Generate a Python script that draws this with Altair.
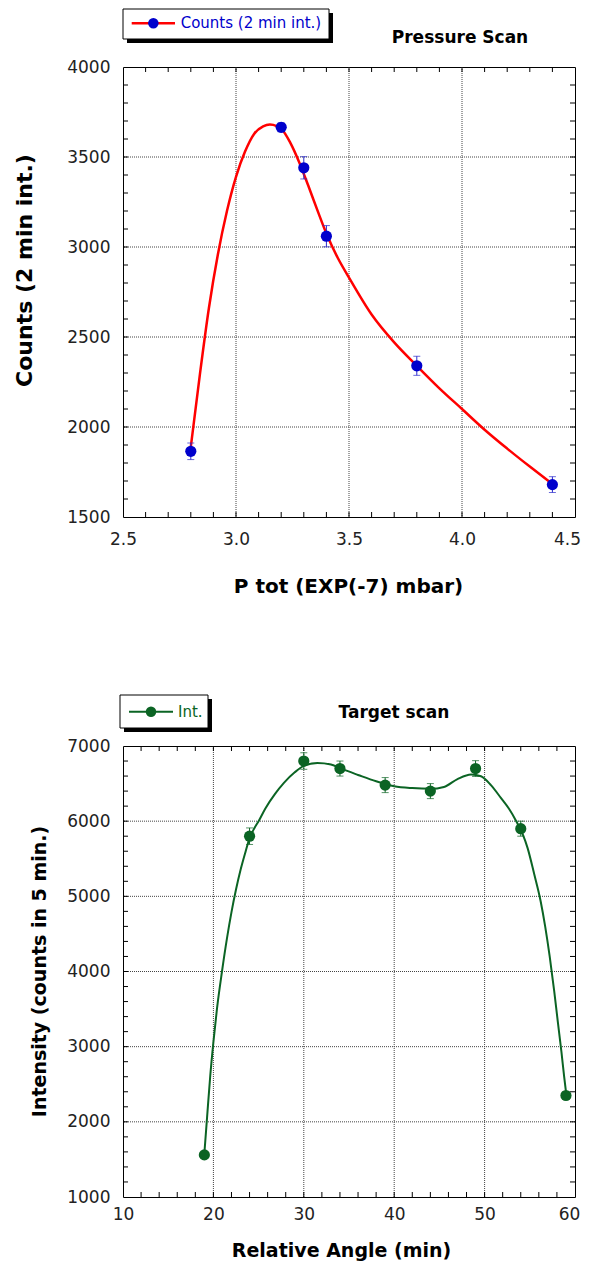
import altair as alt
import pandas as pd

# ---------------- Pressure scan (top) ----------------
p_x = [2.8, 3.2, 3.3, 3.4, 3.8, 4.4]
p_counts = [1865, 3665, 3440, 3060, 2340, 1680]
p_err = [46, 25, 62, 59, 53, 44]

p_curve_x = [2.80, 2.84, 2.88, 2.92, 2.96, 3.00, 3.04, 3.08, 3.12, 3.15, 3.18, 3.20,
             3.24, 3.28, 3.32, 3.36, 3.40, 3.45, 3.50, 3.60, 3.70, 3.80, 3.90, 4.00,
             4.10, 4.20, 4.30, 4.40]
p_curve_y = [1890, 2290, 2660, 2960, 3200, 3390, 3530, 3628, 3670, 3680, 3672, 3658,
             3580, 3470, 3340, 3205, 3075, 2940, 2830, 2625, 2470, 2340, 2215, 2100,
             1985, 1880, 1780, 1683]

p_xticks = [2.5, 3.0, 3.5, 4.0, 4.5]
p_yticks = [1500, 2000, 2500, 3000, 3500, 4000]
p_gridx = [3.0, 3.5, 4.0]
p_gridy = [2000, 2500, 3000, 3500]
p_minor_x = [round(2.5 + 0.1 * i, 1) for i in range(1, 20)]
p_minor_y = [1500 + 100 * i for i in range(1, 25)]

# ---------------- Target scan (bottom) ----------------
a_x = [19, 24, 30, 34, 39, 44, 49, 54, 59]
a_int = [1560, 5800, 6800, 6700, 6480, 6400, 6700, 5900, 2350]
a_err = [40, 110, 110, 100, 100, 100, 105, 100, 50]

a_curve_x = [19.0, 19.3, 19.65, 20.0, 20.4, 20.95, 21.5, 22.0, 22.5, 23.0, 23.5, 24.0,
             24.5, 25.0, 25.75, 26.8, 27.8, 29.0, 30.0, 31.5, 33.0, 34.0, 36.0, 38.0,
             40.0, 42.0, 44.0, 45.5, 47.0, 48.5, 49.6, 50.7, 51.8, 52.7, 53.5, 54.2,
             54.75, 55.5, 56.2, 56.7, 57.2, 57.7, 58.1, 58.5, 58.8, 59.05]
a_curve_y = [1580, 2060, 2610, 3060, 3510, 4000, 4440, 4790, 5090, 5350, 5570, 5770,
             5900, 6000, 6170, 6360, 6510, 6650, 6735, 6775, 6755, 6705, 6615, 6530,
             6465, 6440, 6430, 6455, 6560, 6622, 6598, 6480, 6310, 6165, 6000, 5830,
             5645, 5290, 4935, 4600, 4200, 3740, 3330, 2930, 2600, 2350]

a_xticks = [10, 20, 30, 40, 50, 60]
a_yticks = [1000, 2000, 3000, 4000, 5000, 6000, 7000]
a_gridx = [20, 30, 40, 50]
a_gridy = [2000, 3000, 4000, 5000, 6000]
a_minor_x = [10 + 2 * i for i in range(1, 25)]
a_minor_y = [1000 + 200 * i for i in range(1, 30)]

FONT = "DejaVu Sans"
ONE = pd.DataFrame({"k": [0]})


def panel(W, H, px, py, perr, cx, cy, xdom, ydom, xticks, yticks, xfmt,
          gridx, gridy, minx, miny, line_col, pt_col, err_col, line_w,
          xtitle, xt_x, xt_y, xt_size, ytitle, yt_x, yt_y, yt_size,
          xlab_pad, last_shift, leg, title):
    sx = alt.Scale(domain=xdom, nice=False, zero=False)
    sy = alt.Scale(domain=ydom, nice=False, zero=False)
    ax = alt.Axis(values=xticks, format=xfmt, labelFlush=False, labelOverlap=False,
                  grid=False, ticks=False, domain=False, labelPadding=xlab_pad,
                  labelOffset={"condition": {"test": f"datum.value == {xdom[1]}",
                                             "value": last_shift}, "value": 0},
                  labelFont=FONT, labelFontSize=17, labelColor="#222",
                  title=xtitle, titleX=xt_x, titleY=xt_y, titleAlign="center",
                  titleBaseline="alphabetic", titleFont=FONT, titleFontSize=xt_size,
                  titleFontWeight="bold", titleColor="black")
    ay = alt.Axis(values=yticks, format="d", labelFlush=False, labelOverlap=False,
                  grid=False, ticks=False, domain=False, labelPadding=13,
                  labelFont=FONT, labelFontSize=17, labelColor="#222",
                  title=ytitle, titleAngle=270, titleX=yt_x, titleY=yt_y,
                  titleAlign="center", titleBaseline="middle", titleFont=FONT,
                  titleFontSize=yt_size, titleFontWeight="bold", titleColor="black")
    X = lambda f: alt.X(f, type="quantitative", scale=sx, axis=ax)
    Y = lambda f: alt.Y(f, type="quantitative", scale=sy, axis=ay)

    pts = pd.DataFrame({"x": px, "y": py,
                        "lo": [v - e for v, e in zip(py, perr)],
                        "hi": [v + e for v, e in zip(py, perr)]})
    cur = pd.DataFrame({"x": cx, "y": cy})

    grid_style = dict(color="#444", strokeDash=[1, 1], strokeWidth=1)
    gx = alt.Chart(pd.DataFrame({"x": gridx})).mark_rule(**grid_style).encode(x=X("x"))
    gy = alt.Chart(pd.DataFrame({"y": gridy})).mark_rule(**grid_style).encode(y=Y("y"))

    tdx = pd.DataFrame({"x": minx})
    tdy = pd.DataFrame({"y": miny})
    tk = dict(color="black", strokeWidth=1)
    t1 = alt.Chart(tdx).mark_rule(**tk).encode(x=X("x"), y=alt.value(0), y2=alt.value(5))
    t2 = alt.Chart(tdx).mark_rule(**tk).encode(x=X("x"), y=alt.value(H), y2=alt.value(H - 5))
    t3 = alt.Chart(tdy).mark_rule(**tk).encode(y=Y("y"), x=alt.value(0), x2=alt.value(5))
    t4 = alt.Chart(tdy).mark_rule(**tk).encode(y=Y("y"), x=alt.value(W), x2=alt.value(W - 5))

    line = alt.Chart(cur).mark_line(color=line_col, strokeWidth=line_w,
                                    interpolate="monotone").encode(x=X("x"), y=Y("y"))
    eb = alt.Chart(pts).mark_rule(color=err_col, strokeWidth=1).encode(
        x=X("x"), y=Y("lo"), y2=alt.Y2("hi"))
    c1 = alt.Chart(pts).mark_tick(color=err_col, orient="horizontal", size=7,
                                  thickness=1).encode(x=X("x"), y=Y("lo"))
    c2 = alt.Chart(pts).mark_tick(color=err_col, orient="horizontal", size=7,
                                  thickness=1).encode(x=X("x"), y=Y("hi"))
    pt = alt.Chart(pts).mark_point(filled=True, size=125, opacity=1,
                                   color=pt_col).encode(x=X("x"), y=Y("y"))

    # legend box and title (decoration)
    bx0, bx1, by0, by1 = leg["box"]
    shadow = alt.Chart(ONE).mark_rect(color="black").encode(
        x=alt.value(bx0 + 4), x2=alt.value(bx1 + 4), y=alt.value(by0 + 4), y2=alt.value(by1 + 4))
    box = alt.Chart(ONE).mark_rect(fill="white", stroke="black", strokeWidth=1).encode(
        x=alt.value(bx0), x2=alt.value(bx1), y=alt.value(by0), y2=alt.value(by1))
    l0, l1, ly = leg["line"]
    lline = alt.Chart(ONE).mark_rule(color=line_col, strokeWidth=line_w).encode(
        x=alt.value(l0), x2=alt.value(l1), y=alt.value(ly))
    lpt = alt.Chart(ONE).mark_point(filled=True, size=110, opacity=1, color=pt_col).encode(
        x=alt.value((l0 + l1) / 2), y=alt.value(ly))
    ltx = alt.Chart(ONE).mark_text(align="left", baseline="middle", font=FONT,
                                   fontSize=15, color=leg["tcol"]).encode(
        x=alt.value(leg["tx"]), y=alt.value(ly), text=alt.value(leg["text"]))
    ttl = alt.Chart(ONE).mark_text(align="center", baseline="middle", font=FONT,
                                   fontSize=17, fontWeight="bold", color="black").encode(
        x=alt.value(title[1]), y=alt.value(title[2]), text=alt.value(title[0]))

    return alt.layer(gx, gy, t1, t2, t3, t4, line, eb, c1, c2, pt,
                     shadow, box, lline, lpt, ltx, ttl).properties(width=W, height=H)


top = panel(452, 450, p_x, p_counts, p_err, p_curve_x, p_curve_y, [2.5, 4.5], [1500, 4000],
            p_xticks, p_yticks, ".1f", p_gridx, p_gridy, p_minor_x, p_minor_y,
            "#ff0000", "#0000cc", "#2a2acc", 2.5,
            "P tot (EXP(-7) mbar)", 225, 75, 20, "Counts (2 min int.)", -99, 203, 22,
            14, -8,
            {"box": [0, 206, -58, -28], "line": [8.7, 52, -43.7], "tx": 57.7,
             "text": "Counts (2 min int.)", "tcol": "#0000cc"},
            ("Pressure Scan", 337, -29.3))

bottom = panel(452, 451, a_x, a_int, a_err, a_curve_x, a_curve_y, [10, 60], [1000, 7000],
               a_xticks, a_yticks, "d", a_gridx, a_gridy, a_minor_x, a_minor_y,
               "#0b6424", "#0b6424", "#0b6424", 2,
               "Relative Angle (min)", 218, 59, 19, "Intensity (counts in 5 min.)", -84, 225, 19,
               9, -6,
               {"box": [-3, 85, -51, -18], "line": [6, 50, -34.3], "tx": 55,
                "text": "Int.", "tcol": "#0b6424"},
               ("Target scan", 271, -33))

chart = alt.vconcat(top, bottom, spacing=229, bounds="flush").properties(
    padding={"left": 4, "top": 0, "right": 0, "bottom": 0}, background="white"
).configure_view(stroke="black", strokeWidth=1)

chart.save("out.html", embed_options={"renderer": "svg", "actions": False})
